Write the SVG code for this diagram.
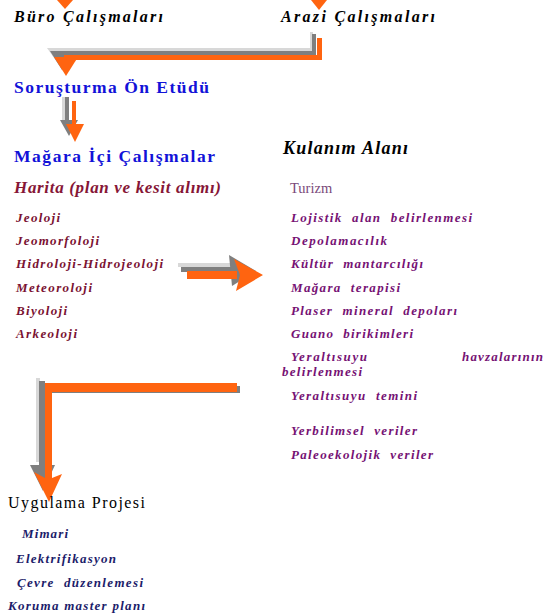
<svg xmlns="http://www.w3.org/2000/svg" width="551" height="616" viewBox="0 0 551 616">
<style>
text{font-family:"Liberation Serif","Times New Roman",serif;white-space:pre}
.hd{font-size:16px;font-weight:bold;font-style:italic;fill:#000}
.bl{font-size:17.5px;font-weight:bold;fill:#1212d8}
.hr{font-size:17px;font-weight:bold;font-style:italic;fill:#861636}
.li{font-size:13px;font-weight:bold;font-style:italic;fill:#7a1232}
.ri{font-size:13px;font-weight:bold;font-style:italic;fill:#761274}
.ni{font-size:13px;font-weight:bold;font-style:italic;fill:#1c1c6a}
.tz{font-size:14.5px;fill:#7a4a7a}
.up{font-size:16px;fill:#000}
.o{fill:#ff6410}
.g{fill:#7f7f7f}
.lg{fill:#d8d8d8}
</style>
<rect width="551" height="616" fill="#fff"/>
<g id="connectors">
  <polygon class="o" points="57,0 73,0 65,9"/>
  <polygon class="o" points="311,0 327,0 319,10"/>
  <g id="elbow1">
    <rect class="lg" x="310" y="32" width="3" height="18"/>
    <rect class="lg" x="55" y="48" width="258" height="3"/>
    <rect class="g" x="312" y="34" width="4" height="21"/>
    <rect class="g" x="56" y="51" width="260" height="4"/>
    <polygon class="lg" points="47,48 71,48 59,65"/>
    <polygon class="g" points="50,51 74,51 62,70"/>
    <rect class="o" x="317" y="38" width="5" height="22"/>
    <rect class="o" x="64" y="55" width="258" height="5"/>
    <polygon class="o" points="54,57 78,57 66,76"/>
  </g>
  <g id="arrow2">
    <rect class="lg" x="62" y="97" width="3" height="26"/>
    <rect class="g" x="65" y="97" width="4" height="28"/>
    <polygon class="g" points="60,120 78,120 69,136"/>
    <rect class="o" x="72" y="101" width="4" height="26"/>
    <polygon class="o" points="66,124 84,124 75,142"/>
  </g>
  <g id="arrow3">
    <rect class="lg" x="178" y="263" width="54" height="4"/>
    <rect class="g" x="181" y="267" width="51" height="5"/>
    <polygon class="g" points="229,255 256,271 232,286"/>
    <rect class="o" x="187" y="271" width="50" height="8"/>
    <polygon class="o" points="234,259 263,275 236,291 240,275"/>
  </g>
  <g id="elbow2">
    <rect class="lg" x="36" y="378" width="4" height="84"/>
    <rect class="g" x="39" y="381" width="6" height="88"/>
    <rect class="g" x="45" y="386" width="195" height="7"/>
    <polygon class="g" points="30,465 55,465 43,491"/>
    <rect class="o" x="45" y="383" width="192" height="9"/>
    <rect class="o" x="45" y="383" width="7" height="96"/>
    <polygon class="o" points="34,472 45,478 52,478 62,474 49,502"/>
  </g>
</g>
<g id="buro"><text class="hd" x="14" y="22" textLength="149" lengthAdjust="spacing">Büro Çalışmaları</text></g>
<g id="arazi"><text class="hd" x="281" y="22" textLength="154" lengthAdjust="spacing">Arazi Çalışmaları</text></g>
<g id="sorusturma"><text class="bl" x="14" y="93" textLength="195" lengthAdjust="spacing">Soruşturma Ön Etüdü</text></g>
<g id="magara">
  <text class="bl" x="14" y="162" textLength="201" lengthAdjust="spacing">Mağara İçi Çalışmalar</text>
  <text class="hr" x="14" y="193" textLength="207" lengthAdjust="spacing">Harita (plan ve kesit alımı)</text>
  <text class="li" x="16" y="222" textLength="44" lengthAdjust="spacing">Jeoloji</text>
  <text class="li" x="16" y="245" textLength="83" lengthAdjust="spacing">Jeomorfoloji</text>
  <text class="li" x="16" y="268" textLength="147" lengthAdjust="spacing">Hidroloji-Hidrojeoloji</text>
  <text class="li" x="16" y="292" textLength="76" lengthAdjust="spacing">Meteoroloji</text>
  <text class="li" x="16" y="315" textLength="51" lengthAdjust="spacing">Biyoloji</text>
  <text class="li" x="16" y="338" textLength="61" lengthAdjust="spacing">Arkeoloji</text>
</g>
<g id="kulanim">
  <text class="hd" x="283" y="154" style="font-size:18px" textLength="125" lengthAdjust="spacing">Kulanım Alanı</text>
  <text class="tz" x="290" y="193">Turizm</text>
  <text class="ri" x="291" y="222" textLength="181" lengthAdjust="spacing">Lojistik  alan  belirlenmesi</text>
  <text class="ri" x="291" y="245" textLength="96" lengthAdjust="spacing">Depolamacılık</text>
  <text class="ri" x="291" y="268" textLength="132" lengthAdjust="spacing">Kültür  mantarcılığı</text>
  <text class="ri" x="291" y="292" textLength="109" lengthAdjust="spacing">Mağara  terapisi</text>
  <text class="ri" x="291" y="315" textLength="166" lengthAdjust="spacing">Plaser  mineral  depoları</text>
  <text class="ri" x="291" y="338" textLength="122" lengthAdjust="spacing">Guano  birikimleri</text>
  <text class="ri" x="291" y="361" textLength="76" lengthAdjust="spacing">Yeraltısuyu</text>
  <text class="ri" x="462" y="361" textLength="81" lengthAdjust="spacing">havzalarının</text>
  <text class="ri" x="282" y="376" textLength="80" lengthAdjust="spacing">belirlenmesi</text>
  <text class="ri" x="291" y="400" textLength="126" lengthAdjust="spacing">Yeraltısuyu  temini</text>
  <text class="ri" x="291" y="435" textLength="126" lengthAdjust="spacing">Yerbilimsel  veriler</text>
  <text class="ri" x="291" y="459" textLength="142" lengthAdjust="spacing">Paleoekolojik  veriler</text>
</g>
<g id="uygulama">
  <text class="up" x="8" y="508" textLength="137" lengthAdjust="spacing">Uygulama Projesi</text>
  <text class="ni" x="22" y="538" textLength="46" lengthAdjust="spacing">Mimari</text>
  <text class="ni" x="16" y="563" textLength="100" lengthAdjust="spacing">Elektrifikasyon</text>
  <text class="ni" x="17" y="587" textLength="126" lengthAdjust="spacing">Çevre  düzenlemesi</text>
  <text class="ni" x="8" y="610" textLength="137" lengthAdjust="spacing">Koruma master planı</text>
</g>
</svg>
